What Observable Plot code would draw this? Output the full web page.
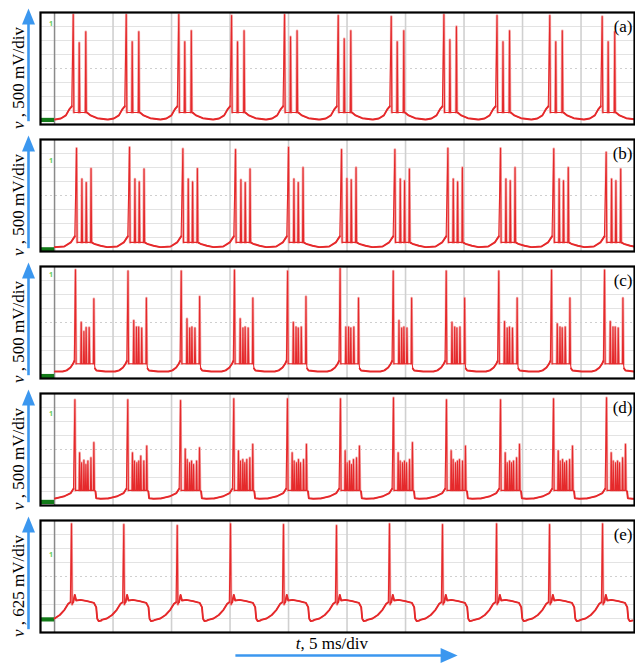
<!DOCTYPE html>
<html>
<head>
<meta charset="utf-8">
<script src="https://cdn.jsdelivr.net/npm/d3@7"></script>
<script src="https://cdn.jsdelivr.net/npm/@observablehq/plot@0.6"></script>
<style>
  body { margin: 0; background: #fff; }
  #chart { width: 635px; height: 665px; }
</style>
</head>
<body>
<div id="chart"></div>
<script>
// Five scope captures (a)–(e) of bursting membrane voltage.
// Time in ms (5 ms/div), voltage in screen divisions (0 = bottom of screen, 8 = top).
const panels = ["a", "b", "c", "d", "e"];
const mvPerDiv = ["500", "500", "500", "500", "625"];

// Horizontal / vertical graticule
const timeDivs = [0, 5, 10, 15, 20, 25, 30, 35, 40, 45];
const voltDivs = [1, 2, 3, 5, 6, 7];

// Onset of each burst (first spike), ms
const burstA = [1.60, 6.13, 10.62, 15.13, 19.66, 24.25, 28.78, 33.28, 37.82, 42.33, 46.81];
const burstB = [1.88, 6.41, 10.97, 15.47, 20.00, 24.53, 29.09, 33.62, 38.12, 42.67, 47.15];
const burstC = [1.79, 6.28, 10.83, 15.38, 19.92, 24.41, 28.95, 33.48, 37.97, 42.48, 47.01];
const burstD = [1.74, 6.26, 10.77, 15.32, 19.91, 24.44, 28.97, 33.50, 38.12, 42.65, 47.18];
const burstE = [1.45, 5.92, 10.49, 15.04, 19.57, 24.10, 28.63, 33.16, 37.78, 42.31, 46.84];

// Spike times inside a burst, ms after the first spike
const offsetsA = [0, 0.51, 1.07];
const offsetsB = [0, 0.46, 0.83, 1.24];
const offsetsC = [0, 0.49, 0.72, 0.91, 1.17, 1.57];
const offsetsD = [0, 0.40, 0.57, 0.77, 0.94, 1.11, 1.37, 1.62];
const offsetsE = [0];

// Spike peaks, div (one row per burst)
const peaksA = [
  [7.86, 5.84, 6.63], [7.86, 5.91, 6.63], [7.86, 5.91, 6.70], [7.78, 5.91, 6.70],
  [7.86, 6.27, 6.70], [7.78, 6.13, 6.70], [7.71, 5.91, 6.70], [7.86, 6.05, 6.99],
  [7.78, 5.91, 6.70], [7.78, 5.91, 6.70], [7.71, 5.91, 6.63]
];
const peaksB = [
  [7.37, 5.17, 4.92, 5.93], [7.45, 5.17, 4.97, 5.89], [7.33, 5.17, 4.97, 5.93],
  [7.28, 5.12, 4.92, 5.89], [7.45, 5.17, 4.92, 6.00], [7.28, 5.21, 5.12, 6.00],
  [7.28, 5.17, 5.05, 5.89], [7.37, 5.17, 4.97, 6.00], [7.37, 5.17, 5.05, 6.00],
  [7.33, 5.17, 5.05, 6.00], [7.08, 5.17, 5.05, 5.89]
];
const peaksC = [
  [7.76, 4.02, 3.36, 3.64, 3.64, 5.69], [7.67, 4.14, 3.67, 3.67, 3.60, 5.74],
  [7.67, 4.26, 3.60, 3.67, 3.60, 5.86], [7.74, 4.26, 3.60, 3.67, 3.60, 5.74],
  [7.67, 4.02, 3.67, 3.60, 3.67, 5.86], [7.86, 3.67, 3.67, 3.60, 3.67, 5.74],
  [7.67, 4.14, 3.60, 3.67, 3.60, 5.74], [7.67, 4.02, 3.67, 3.60, 3.67, 5.74],
  [7.67, 4.07, 3.60, 3.67, 3.60, 5.74], [7.74, 3.90, 3.67, 3.62, 3.67, 5.74],
  [7.74, 4.07, 3.67, 3.67, 3.60, 5.74]
];
const peaksD = [
  [7.55, 3.77, 3.05, 3.22, 2.93, 3.17, 3.41, 4.49],
  [7.55, 3.77, 3.17, 3.05, 3.17, 3.53, 3.17, 4.25],
  [7.50, 4.04, 3.29, 3.05, 3.17, 2.93, 3.17, 4.13],
  [7.62, 3.90, 3.17, 3.29, 3.05, 3.29, 3.41, 4.37],
  [7.62, 3.77, 3.17, 3.05, 3.29, 3.05, 3.29, 4.37],
  [7.62, 3.90, 3.05, 3.17, 2.93, 3.29, 3.41, 4.25],
  [7.69, 3.77, 3.17, 3.05, 3.17, 3.05, 3.29, 4.49],
  [7.55, 3.90, 3.29, 3.05, 3.17, 3.29, 3.17, 4.25],
  [7.55, 3.77, 3.05, 3.17, 3.05, 3.17, 3.41, 4.37],
  [7.62, 3.90, 3.17, 3.29, 3.05, 3.17, 3.29, 4.25],
  [7.69, 3.77, 3.17, 3.05, 3.17, 3.05, 3.41, 4.37]
];
const peaksE = [
  [7.76], [7.71], [7.64], [7.76], [7.71], [7.64], [7.76], [7.71], [7.76], [7.71], [7.76]
];

// Level the trace returns to between spikes of a burst, div
const troughA = 0.86, troughB = 0.65, troughC = 1.05, troughD = 1.08, troughE = 2.0;

// Trace after a burst: [ms after first spike, div]
const tailA = [[1.20, 0.84], [1.48, 0.65], [2.05, 0.45], [2.91, 0.36]];
const tailB = [[1.36, 0.62], [1.50, 0.55], [2.05, 0.41], [2.62, 0.31]];
const tailC = [[1.67, 0.71], [1.79, 0.57], [2.56, 0.50]];
const tailD = [[1.76, 1.00], [1.82, 0.52], [2.20, 0.48], [2.70, 0.50]];
const tailE = [[0.15, 2.16], [0.28, 2.69], [0.40, 2.29], [0.77, 2.33], [1.34, 2.24],
               [1.91, 2.12], [2.11, 1.81], [2.20, 0.98], [2.33, 0.81], [2.56, 0.86]];

// Trace leading into a burst: [ms before first spike, div]
const riseA = [[-1.55, 0.36], [-1.06, 0.43], [-0.63, 0.65], [-0.34, 1.08], [-0.13, 1.30]];
const riseB = [[-1.85, 0.31], [-1.05, 0.36], [-0.49, 0.65], [-0.15, 1.08]];
const riseC = [[-1.75, 0.50], [-1.10, 0.50], [-0.75, 0.58], [-0.43, 0.78], [-0.21, 1.05], [-0.10, 1.25]];
const riseD = [[-1.70, 0.50], [-1.20, 0.60], [-0.90, 0.66], [-0.35, 0.89], [-0.12, 1.20]];
const riseE = [[-1.90, 0.90], [-1.45, 1.00], [-1.00, 1.25], [-0.60, 1.62], [-0.28, 2.05], [-0.10, 2.16]];

// Scope markers on the left edge (channel ground, trigger level), div
const groundMarkDiv = [0.29, 0.12, 0.14, 0.22, 0.90];
const triggerMarkDiv = [7.20, 6.47, 7.43, 6.56, 5.57];

// ---------------------------------------------------------------------------
const series = {
  a: [burstA, offsetsA, peaksA, troughA, tailA, riseA],
  b: [burstB, offsetsB, peaksB, troughB, tailB, riseB],
  c: [burstC, offsetsC, peaksC, troughC, tailC, riseC],
  d: [burstD, offsetsD, peaksD, troughD, tailD, riseD],
  e: [burstE, offsetsE, peaksE, troughE, tailE, riseE]
};

const HALF_UP = 0.04, HALF_DOWN = 0.05; // spike flanks, ms

const trace = [];   // full trace, one series per panel
const spikes = [];  // each spike on its own, for the light envelope
const quiet = [];   // the slow wave between bursts, drawn heavier
for (const panel of panels) {
  const [bursts, offsets, peaks, trough, tail, rise] = series[panel];
  const pts = [];
  bursts.forEach((t0, i) => {
    for (const [dt, v] of rise) {
      pts.push({t: t0 + dt, v});
      quiet.push({panel, gap: `${panel}-${i}`, t: t0 + dt, v});
    }
    offsets.forEach((dt, k) => {
      const s = t0 + dt, peak = peaks[i][k];
      const base = k === 0 ? rise[rise.length - 1][1] : trough;
      if (k > 0) pts.push({t: s - HALF_UP, v: trough});
      pts.push({t: s, v: peak});
      pts.push({t: s + HALF_DOWN, v: trough});
      const id = `${panel}-${i}-${k}`;
      spikes.push({panel, id, t: s - HALF_UP, v: base});
      spikes.push({panel, id, t: s, v: peak});
      spikes.push({panel, id, t: s + HALF_DOWN, v: trough});
    });
    for (const [dt, v] of tail) {
      pts.push({t: t0 + dt, v});
      quiet.push({panel, gap: `${panel}-${i + 1}`, t: t0 + dt, v});
    }
  });
  for (const p of d3.sort(pts, d => d.t)) if (p.t >= 0) trace.push({panel, ...p});
}
const quietTrace = d3.sort(quiet.filter(d => d.t >= 0), d => d.t);

const xMin = -1.2, xMax = 49.57;
const serif = "'Liberation Serif', 'Times New Roman', serif";
const blue = "#3b97ef";

const arrowUp = {draw(ctx) { ctx.moveTo(0, 0); ctx.lineTo(6.5, 16); ctx.lineTo(-6.5, 16); ctx.closePath(); }};
const arrowRight = {draw(ctx) { ctx.moveTo(0, 0); ctx.lineTo(-17, -7.5); ctx.lineTo(-17, 7.5); ctx.closePath(); }};

const chart = Plot.plot({
  width: 635,
  height: 665,
  marginLeft: 40,
  marginRight: 1,
  marginTop: 12,
  marginBottom: 33,
  x: {domain: [xMin, xMax], axis: null},
  y: {domain: [0, 8], axis: null},
  fy: {domain: panels, axis: null, paddingInner: 0.122, paddingOuter: 0},
  style: {background: "#fff", overflow: "visible"},
  marks: [
    // graticule
    Plot.ruleY(voltDivs, {stroke: "#e3e3e3", strokeWidth: 1}),
    Plot.ruleY([4], {stroke: "#cfcfcf", strokeWidth: 1, strokeDasharray: "2,3"}),
    Plot.ruleX(timeDivs.slice(1), {stroke: "#d0d0d0", strokeWidth: 1.6}),
    Plot.ruleX(timeDivs.slice(0, 1), {stroke: "#8a8a8a", strokeWidth: 1.5}),

    // scope markers
    Plot.rect(panels, {
      fy: d => d, x1: xMin, x2: 0,
      y1: (d, i) => groundMarkDiv[i] - 0.15, y2: (d, i) => groundMarkDiv[i] + 0.15,
      fill: "#127a18"
    }),
    Plot.text(panels, {
      fy: d => d, x: -0.3, y: (d, i) => triggerMarkDiv[i], text: () => "1",
      fill: "#66cc55", fontSize: 7, fontWeight: "bold"
    }),

    // voltage trace
    Plot.line(spikes, {x: "t", y: "v", z: "id", fy: "panel", stroke: "#f4aaaa", strokeWidth: 2.6, clip: true}),
    Plot.line(trace, {x: "t", y: "v", fy: "panel", stroke: "#e5292b", strokeWidth: 1.1, clip: true}),
    Plot.line(quietTrace, {x: "t", y: "v", z: "gap", fy: "panel", stroke: "#e5292b", strokeWidth: 1.9, clip: true}),

    Plot.frame({stroke: "#000", strokeWidth: 2.2}),

    // panel tags
    Plot.text(panels, {
      fy: d => d, text: d => `(${d})`, frameAnchor: "top-right", dx: -2, dy: 14,
      textAnchor: "end", lineAnchor: "middle", fontSize: 17, fontFamily: serif, fill: "#000"
    }),

    // vertical axis label and arrow
    Plot.ruleX([xMin], {dx: -12, y1: 0.2, y2: 7.4, stroke: blue, strokeWidth: 2.6}),
    Plot.dot([xMin], {x: d => d, y: 8.29, dx: -12, symbol: arrowUp, fill: blue, stroke: "none"}),
    Plot.text(panels, {
      fy: d => d, text: () => "v", frameAnchor: "bottom-left", dx: -22, dy: -3,
      rotate: -90, textAnchor: "end", lineAnchor: "middle",
      fontStyle: "italic", fontSize: 17, fontFamily: serif, fill: "#000"
    }),
    Plot.text(panels, {
      fy: d => d, text: (d, i) => ` , ${mvPerDiv[i]} mV/div`, frameAnchor: "bottom-left", dx: -22, dy: -3,
      rotate: -90, textAnchor: "start", lineAnchor: "middle",
      fontSize: 17, fontFamily: serif, fill: "#000"
    }),

    // time axis label and arrow (below the last panel)
    Plot.text(["e"], {
      fy: d => d, text: () => "t", frameAnchor: "bottom", dx: -37, dy: 11,
      textAnchor: "end", lineAnchor: "middle",
      fontStyle: "italic", fontSize: 17, fontFamily: serif, fill: "#000"
    }),
    Plot.text(["e"], {
      fy: d => d, text: () => ", 5 ms/div", frameAnchor: "bottom", dx: -37, dy: 11,
      textAnchor: "start", lineAnchor: "middle",
      fontSize: 17, fontFamily: serif, fill: "#000"
    }),
    Plot.ruleY(["e"], {fy: d => d, y: 0, x1: 15.5, x2: 33.2, dy: 23, stroke: blue, strokeWidth: 2.6}),
    Plot.dot(["e"], {fy: d => d, x: 34.45, y: 0, dy: 23, symbol: arrowRight, fill: blue, stroke: "none"})
  ]
});

document.getElementById("chart").append(chart);
</script>
</body>
</html>
